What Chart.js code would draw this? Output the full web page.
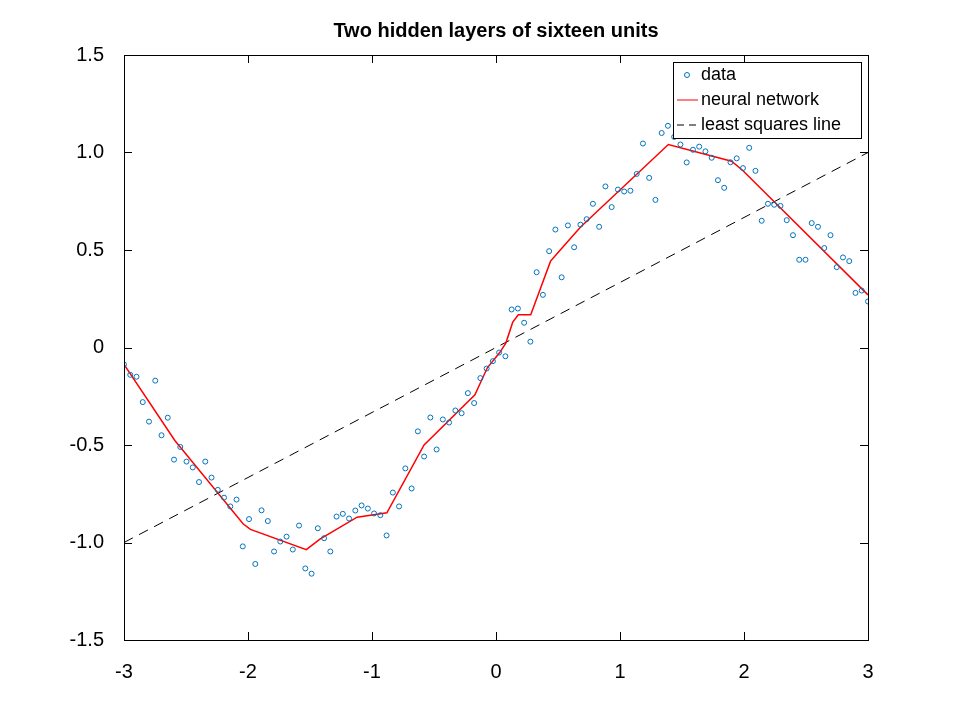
<!DOCTYPE html>
<html>
<head>
<meta charset="utf-8">
<script src="https://cdn.jsdelivr.net/npm/chart.js@4"></script>
<style>
  html, body { margin: 0; padding: 0; background: #fff; }
  #wrap { width: 960px; height: 720px; }
</style>
</head>
<body>
<div id="wrap"><canvas id="c"></canvas></div>
<script>
// Points mesurés (x de -3 à 3, pas régulier)
const dataY = [
  -0.087, -0.14, -0.15, -0.28, -0.38, -0.17, -0.45, -0.36, -0.575, -0.51,
  -0.585, -0.615, -0.69, -0.585, -0.667, -0.73, -0.77, -0.815, -0.78, -1.02,
  -0.88, -1.11, -0.835, -0.89, -1.046, -0.995, -0.97, -1.036, -0.913, -1.133,
  -1.16, -0.927, -0.978, -1.046, -0.867, -0.853, -0.877, -0.836, -0.81, -0.826,
  -0.851, -0.86, -0.964, -0.744, -0.815, -0.62, -0.723, -0.43, -0.559, -0.359,
  -0.523, -0.369, -0.385, -0.323, -0.337, -0.234, -0.285, -0.157, -0.108, -0.07,
  -0.026, -0.045, 0.195, 0.20, 0.127, 0.03, 0.386, 0.27, 0.494, 0.605,
  0.36, 0.626, 0.514, 0.63, 0.658, 0.737, 0.619, 0.826, 0.72, 0.81,
  0.80, 0.804, 0.89, 1.046, 0.87, 0.757, 1.10, 1.137, 1.08, 1.041,
  0.949, 1.014, 1.03, 1.006, 0.973, 0.858, 0.819, 0.95, 0.97, 0.92,
  1.024, 0.906, 0.65, 0.737, 0.732, 0.726, 0.653, 0.576, 0.45, 0.45,
  0.638, 0.619, 0.51, 0.576, 0.412, 0.462, 0.443, 0.28, 0.292, 0.236
];
const dataX = dataY.map((v, i) => -3 + 6 * i / (dataY.length - 1));

// Sommets de la courbe du réseau de neurones
const netX = [-3, -2.59, -2.04, -1.98, -1.53, -1.42, -1.12, -0.88, -0.58, -0.17, -0.07, 0.03, 0.08, 0.135, 0.18, 0.28, 0.44, 0.49, 0.68, 1.39, 1.9, 1.99, 3];
const netY = [-0.087, -0.477, -0.904, -0.933, -1.037, -0.983, -0.87, -0.848, -0.5, -0.243, -0.104, -0.026, 0.024, 0.13, 0.168, 0.168, 0.443, 0.48, 0.617, 1.041, 0.955, 0.908, 0.27];

// Droite des moindres carrés
const lsX = [-3, 3];
const lsY = [-1, 1];

const xTicks = [-3, -2, -1, 0, 1, 2, 3];
const yTicks = [-1.5, -1, -0.5, 0, 0.5, 1, 1.5];
const legendLabels = ['data', 'neural network', 'least squares line'];

const toPts = (xs, ys) => xs.map((x, i) => ({ x: x, y: ys[i] }));
const FONT = 'Liberation Sans, Arial, sans-serif';

// Cadre, graduations internes, titre et légende
const framePlugin = {
    id: 'frame',
    afterDraw(chart) {
        const ctx = chart.ctx;
        const a = chart.chartArea;
        const sx = chart.scales.x, sy = chart.scales.y;
        ctx.save();
        ctx.strokeStyle = '#000';
        ctx.lineWidth = 1;
        ctx.strokeRect(a.left + 0.5, a.top + 0.5, a.right - a.left, a.bottom - a.top);
        ctx.beginPath();
        xTicks.forEach(t => {
            const p = Math.round(sx.getPixelForValue(t)) + 0.5;
            ctx.moveTo(p, a.bottom); ctx.lineTo(p, a.bottom - 8);
            ctx.moveTo(p, a.top); ctx.lineTo(p, a.top + 8);
        });
        yTicks.forEach(t => {
            const p = Math.round(sy.getPixelForValue(t)) + 0.5;
            ctx.moveTo(a.left, p); ctx.lineTo(a.left + 8, p);
            ctx.moveTo(a.right, p); ctx.lineTo(a.right - 8, p);
        });
        ctx.stroke();

        // Titre
        ctx.fillStyle = '#000';
        ctx.font = 'bold 20px ' + FONT;
        ctx.textAlign = 'center';
        ctx.textBaseline = 'middle';
        ctx.fillText('Two hidden layers of sixteen units', (a.left + a.right) / 2, 31);

        // Légende
        const lx = 673, ly = 62, lw = 188, lh = 76;
        ctx.fillStyle = '#fff';
        ctx.fillRect(lx, ly, lw, lh);
        ctx.strokeRect(lx + 0.5, ly + 0.5, lw, lh);
        ctx.font = '18px ' + FONT;
        ctx.textAlign = 'left';
        const rows = [75, 100, 125];
        rows.forEach((y, i) => {
            ctx.fillStyle = '#000';
            ctx.fillText(legendLabels[i], lx + 28, y);
        });
        ctx.strokeStyle = '#0072BD';
        ctx.beginPath(); ctx.arc(lx + 14, rows[0], 2.5, 0, Math.PI * 2); ctx.stroke();
        ctx.strokeStyle = '#ff0000';
        ctx.beginPath(); ctx.moveTo(lx + 4, rows[1]); ctx.lineTo(lx + 25, rows[1]); ctx.stroke();
        ctx.strokeStyle = '#000';
        ctx.setLineDash([7, 5]);
        ctx.beginPath(); ctx.moveTo(lx + 4, rows[2]); ctx.lineTo(lx + 26, rows[2]); ctx.stroke();
        ctx.restore();
    }
};

new Chart(document.getElementById('c'), {
    type: 'scatter',
    data: {
        datasets: [
            {
                label: legendLabels[0],
                data: toPts(dataX, dataY),
                showLine: false,
                pointRadius: 2.5,
                pointBorderWidth: 1,
                pointBorderColor: '#0072BD',
                pointBackgroundColor: 'rgba(0,0,0,0)'
            },
            {
                label: legendLabels[1],
                data: toPts(netX, netY),
                showLine: true,
                borderColor: '#ff0000',
                borderWidth: 1.5,
                pointRadius: 0,
                tension: 0
            },
            {
                label: legendLabels[2],
                data: toPts(lsX, lsY),
                showLine: true,
                borderColor: '#000',
                borderWidth: 1,
                borderDash: [10, 7],
                pointRadius: 0
            }
        ]
    },
    options: {
        responsive: true,
        maintainAspectRatio: false,
        animation: false,
        layout: { padding: { top: 55, right: 92, left: 0, bottom: 0 } },
        plugins: { legend: { display: false }, tooltip: { enabled: false } },
        scales: {
            x: {
                type: 'linear', min: -3, max: 3,
                afterFit: s => { s.height = 80; },
                afterBuildTicks: s => { s.ticks = xTicks.map(v => ({ value: v })); },
                grid: { display: false },
                border: { display: false },
                ticks: { color: '#000', font: { size: 20, family: FONT }, padding: 12, maxRotation: 0 }
            },
            y: {
                type: 'linear', min: -1.5, max: 1.5,
                afterFit: s => { s.width = 124; },
                afterBuildTicks: s => { s.ticks = yTicks.map(v => ({ value: v })); },
                grid: { display: false },
                border: { display: false },
                ticks: { color: '#000', font: { size: 20, family: FONT }, padding: 12 }
            }
        }
    },
    plugins: [framePlugin]
});
</script>
</body>
</html>
